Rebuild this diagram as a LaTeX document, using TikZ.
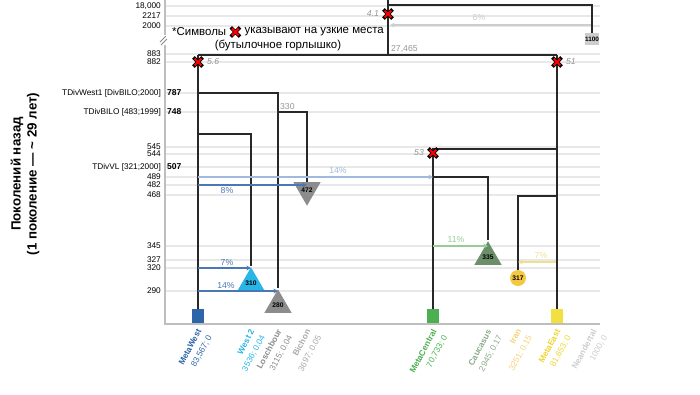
\documentclass[tikz,border=0pt]{standalone}
\usepackage{fontspec}
\setmainfont{Liberation Sans}
\usetikzlibrary{positioning,shapes.geometric,shapes.misc,arrows.meta}

\definecolor{cWest}{RGB}{46,101,168}
\definecolor{cWestTwo}{RGB}{41,182,230}
\definecolor{cLosch}{RGB}{140,140,140}
\definecolor{cBichon}{RGB}{170,170,170}
\definecolor{cCentral}{RGB}{76,175,80}
\definecolor{cCauc}{RGB}{107,142,107}
\definecolor{cCaucTxt}{RGB}{140,170,140}
\definecolor{cIran}{RGB}{245,200,66}
\definecolor{cIranTxt}{RGB}{245,210,120}
\definecolor{cEast}{RGB}{242,224,64}
\definecolor{cEastTxt}{RGB}{236,214,50}
\definecolor{cNean}{RGB}{205,205,205}
\definecolor{cGrid}{RGB}{232,232,232}
\definecolor{cAxis}{RGB}{190,190,190}
\definecolor{cBranch}{RGB}{40,40,40}
\definecolor{cFlow}{RGB}{74,120,181}
\definecolor{cFlowPale}{RGB}{160,185,220}
\definecolor{cFlowGreen}{RGB}{150,205,150}
\definecolor{cFlowYellow}{RGB}{238,224,145}
\definecolor{cNote}{RGB}{150,150,150}

\tikzset{every picture/.style={line width=0.75pt}}
\tikzset{
  grid line/.style={draw=cGrid, line width=0.8pt},
  axis line/.style={draw=cAxis, line width=0.9pt},
  branch/.style={draw=cBranch, line width=1.1pt},
  flow/.style={line width=0.9pt, -{Stealth[length=3.5pt,width=3.5pt]}},
  flowlbl/.style={font=\fontsize{6.5}{7}\selectfont, inner sep=0.5pt},
  tick/.style={anchor=east, font=\fontsize{6.2}{7}\selectfont, inner sep=0.5pt},
  tdiv/.style={anchor=west, font=\bfseries\fontsize{6.4}{7}\selectfont, inner sep=0.5pt},
  bneck/.style={cross out, draw=black, line width=2.7pt, line cap=rect, minimum size=5pt, inner sep=0pt, outer sep=0pt,
    postaction={draw=red, line width=1.5pt, line cap=butt}},
  bnlbl/.style={font=\itshape\fontsize{6.5}{7}\selectfont, text=cNote, inner sep=0.5pt},
  numlbl/.style={font=\fontsize{6.5}{7}\selectfont, text=cNote, inner sep=0.5pt},
  notetxt/.style={font=\fontsize{8.6}{10}\selectfont, inner sep=0.5pt},
  tipsq/.style={rectangle, minimum width=9pt, minimum height=10.5pt, inner sep=0pt},
  tritip/.style={regular polygon, regular polygon sides=3, minimum size=15pt, inner sep=0pt,
    font=\bfseries\fontsize{5}{5}\selectfont},
  spname/.style={rotate=62, anchor=north east, align=right, font=\fontsize{6.3}{9}\selectfont, inner sep=0.5pt},
}

\begin{document}
\begin{tikzpicture}[x=0.75pt,y=0.75pt,yscale=-1,xscale=1]
\useasboundingbox (0,0) rectangle (700,394);

% grid
\foreach \y in {6,16,26,54,62,93,112,147,154,167,177,185,195,246,260,268,291}
  \draw[grid line] (165,\y) -- (600,\y);

% axes with break
\draw[axis line] (165,0) -- (165,35);
\draw[axis line] (165,45) -- (165,324) -- (600,324);
\draw[draw=cLosch, line width=0.7pt] (160,42) -- (166,36) (161,45) -- (167,39);

% tick labels
\foreach \v/\y in {{18,000}/6,2217/16,2000/26,883/54,882/62,545/147,544/154,489/177,482/185,468/195,345/246,327/260,320/268,290/291}
  \node[tick] (tk\y) at (162,\y) {\v};
\node[tick] (tdw) at (162,93) {TDivWest1 [DivBILO;2000]};
\node[tdiv] (tdwv) at (166,93) {787};
\node[tick] (tdb) at (162,112) {TDivBILO [483;1999]};
\node[tdiv] (tdbv) at (166,112) {748};
\node[tick] (tdv) at (162,167) {TDivVL [321;2000]};
\node[tdiv] (tdvv) at (166,167) {507};

% axis title
\node[rotate=90, align=center, font=\bfseries\fontsize{10}{12}\selectfont] (ytitle) at (25,174)
  {Поколений назад\\(1 поколение — \textasciitilde{} 29 лет)};

% note
\node[notetxt, anchor=west] (note1) at (171,32) {*Символы};
\node[bneck, right=3.5pt of note1] (noteX) {};
\node[notetxt, right=3.5pt of noteX] (note2) {указывают на узкие места};
\node[notetxt] (note3) at (278,45) {(бутылочное горлышко)};

% root and Neandertal
\coordinate (rtop) at (388,0);
\coordinate (njn) at (388,5);
\coordinate (root) at (388,55);
\coordinate (wjn) at (198,55);
\coordinate (ejn) at (557,55);
\node[rectangle, fill=cNean, minimum width=8.5pt, minimum height=9pt, inner sep=0pt,
  font=\bfseries\fontsize{4.8}{5}\selectfont] (nean) at (592,39) {1100};
\draw[branch] (rtop) -- (root);
\draw[branch] (njn) -| (nean.north);
\draw[branch] (wjn) -- (ejn);
\node[numlbl, anchor=south west] (n27) at (390,54) {27,465};

% west lineages
\node[tipsq, fill=cWest] (mwest) at (198,316) {};
\draw[branch] (wjn) -- (mwest.north);
\coordinate (lsj) at (198,93);
\node[tritip, fill=cLosch] (losch) at (278,305) {280};
\draw[branch] (lsj) -| (losch.north);
\coordinate (bij) at (278,112);
\node[tritip, shape border rotate=180, fill=cLosch] (bichon) at (307,190) {472};
\draw[branch] (bij) -| (bichon.north);
\node[numlbl, anchor=south west] (n330) at (279,111) {330};
\coordinate (w2j) at (198,134);
\node[tritip, fill=cWestTwo] (west2) at (251,283) {310};
\draw[branch] (w2j) -| (west2.north);

% central and east lineages
\coordinate (csj) at (557,149);
\coordinate (cjn) at (433,149);
\node[tipsq, fill=cCentral] (mcentral) at (433,316) {};
\node[tipsq, fill=cEast] (meast) at (557,316) {};
\draw[branch] (ejn) -- (meast.north);
\draw[branch] (csj) -- (cjn) -- (mcentral.north);
\coordinate (caj) at (433,177);
\node[tritip, fill=cCauc] (cauc) at (488,257) {335};
\draw[branch] (caj) -| (cauc.north);
\coordinate (irj) at (557,196);
\node[circle, fill=cIran, minimum size=12pt, inner sep=0pt, font=\bfseries\fontsize{5}{5}\selectfont] (iran) at (518,278) {317};
\draw[branch] (irj) -| (iran.north);

% bottlenecks
\node[bneck] (bn41) at (388,14) {};
\node[bnlbl, anchor=east] (l41) at (380,14) {4.1};
\node[bneck] (bn56) at (198,62) {};
\node[bnlbl, anchor=west] (l56) at (206,62) {5.6};
\node[bneck] (bn51) at (557,62) {};
\node[bnlbl, anchor=west] (l51) at (565,62) {51};
\node[bneck] (bn53) at (433,153) {};
\node[bnlbl, anchor=east] (l53) at (425,153) {53};

% gene flow
\coordinate (g6s) at (591,25);
\coordinate (g6e) at (390,25);
\draw[flow, cNean] (g6s) -- (g6e);
\node[flowlbl, text=cNean] (f6) at (479,18) {6\%};
\coordinate (g14as) at (198,177);
\draw[flow, cFlowPale] (g14as) -- (cjn |- g14as);
\node[flowlbl, text=cFlowPale] (f14a) at (338,171) {14\%};
\coordinate (g8s) at (198,185);
\draw[flow, cFlow] (g8s) -- (bichon.north |- g8s);
\node[flowlbl, text=cFlow] (f8) at (227,191) {8\%};
\coordinate (g7s) at (198,268);
\draw[flow, cFlow] (g7s) -- (west2.north |- g7s);
\node[flowlbl, text=cFlow] (f7) at (227,263) {7\%};
\coordinate (g14bs) at (198,291);
\draw[flow, cFlow] (g14bs) -- (losch.north |- g14bs);
\node[flowlbl, text=cFlow] (f14b) at (226,286) {14\%};
\coordinate (g11s) at (433,246);
\draw[flow, cFlowGreen] (g11s) -- (cauc.north |- g11s);
\node[flowlbl, text=cFlowGreen] (f11) at (456,240) {11\%};
\coordinate (g7es) at (556,262);
\draw[flow, cFlowYellow] (g7es) -- (iran.north |- g7es);
\node[flowlbl, text=cFlowYellow] (f7e) at (541,256) {7\%};

% species labels
\node[spname, text=cWest] (sw) at (196,327) {\textbf{MetaWest}\\83,567; 0};
\node[spname, text=cWestTwo] (s2) at (249,327) {\textbf{West 2}\\3536; 0.04};
\node[spname, text=cLosch] (sl) at (276,327) {\textbf{Loschbour}\\3115; 0.04};
\node[spname, text=cBichon] (sb) at (305,327) {\textbf{Bichon}\\3697; 0.05};
\node[spname, text=cCentral] (sc) at (431,327) {\textbf{MetaCentral}\\70,733; 0};
\node[spname, text=cCaucTxt] (sk) at (486,327) {\textbf{Caucasus}\\2945; 0.17};
\node[spname, text=cIranTxt] (si) at (516,327) {\textbf{Iran}\\3251; 0.15};
\node[spname, text=cEastTxt] (se) at (555,327) {\textbf{MetaEast}\\81,653; 0};
\node[spname, text=cNean] (sn) at (591,327) {\textbf{Neandertal}\\1000; 0};
\end{tikzpicture}
\end{document}
